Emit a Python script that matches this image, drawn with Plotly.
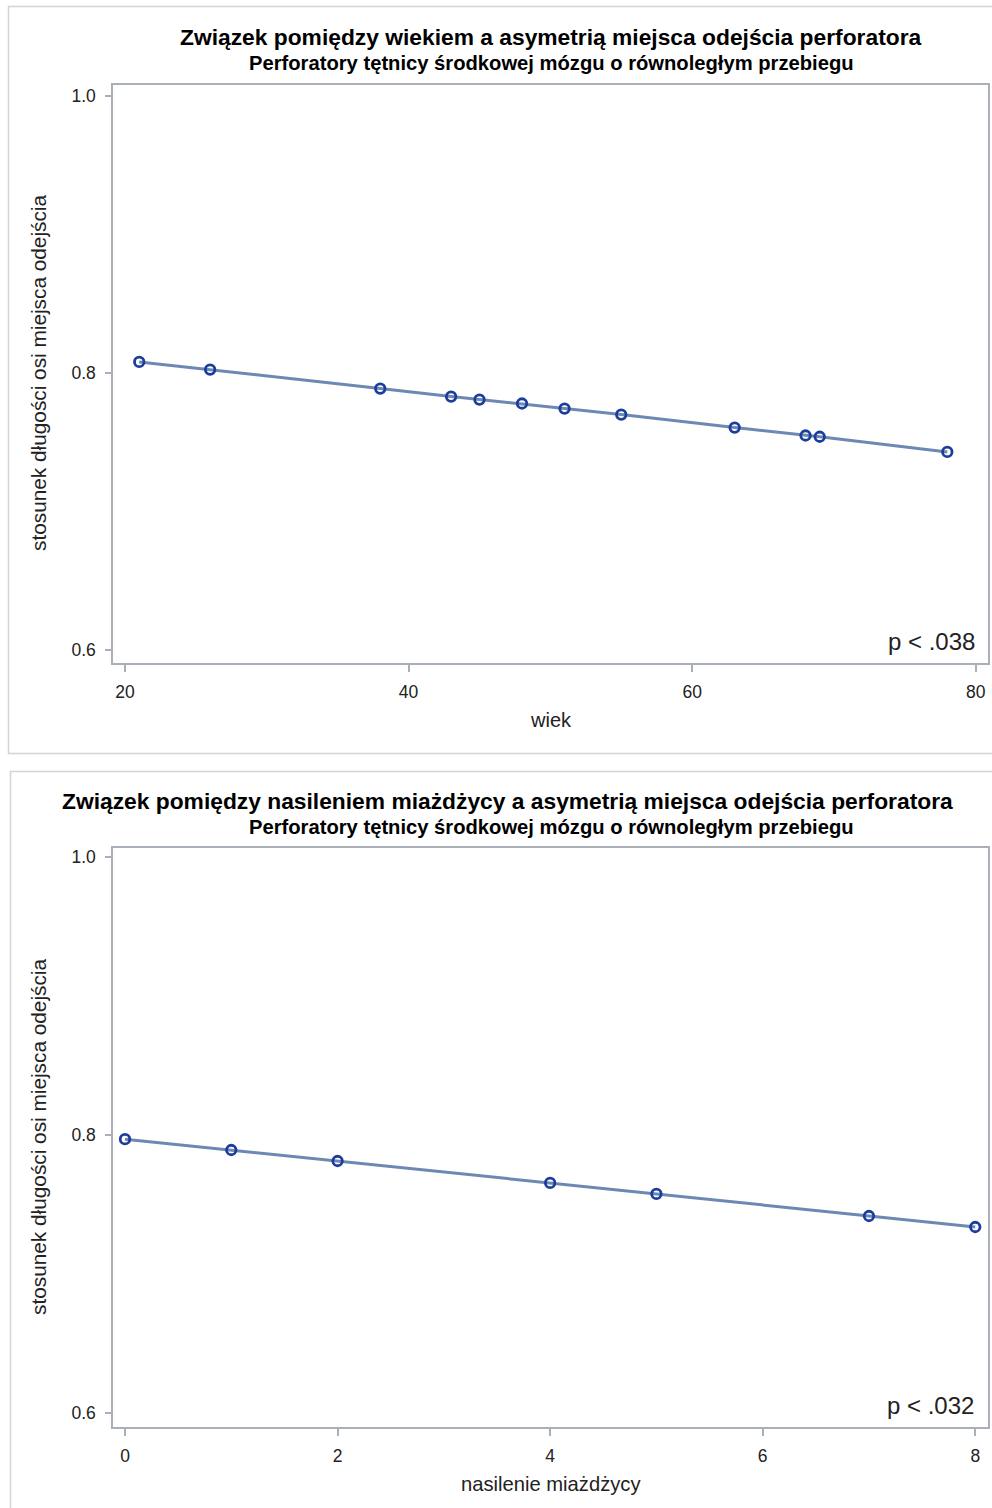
import plotly.graph_objects as go

# ---- data ----
age = [21, 26, 38, 43, 45, 48, 51, 55, 63, 68, 69, 78]
ratio_age = [0.808, 0.8025, 0.7888, 0.783, 0.7808, 0.778, 0.7743, 0.770, 0.7606, 0.7549, 0.7540, 0.743]

athero = [0, 1, 2, 4, 5, 7, 8]
ratio_athero = [0.797, 0.7892, 0.7813, 0.7655, 0.7576, 0.7417, 0.7338]

age_ticks = [20, 40, 60, 80]
athero_ticks = [0, 2, 4, 6, 8]
y_ticks = [0.6, 0.8, 1.0]
y_tick_labels = ["0.6", "0.8", "1.0"]

title1 = "Związek pomiędzy wiekiem a asymetrią miejsca odejścia perforatora"
title2 = "Związek pomiędzy nasileniem miażdżycy a asymetrią miejsca odejścia perforatora"
subtitle = "Perforatory tętnicy środkowej mózgu o równoległym przebiegu"
ytitle = "stosunek długości osi miejsca odejścia"
xtitle1 = "wiek"
xtitle2 = "nasilenie miażdżycy"
p1 = "p < .038"
p2 = "p < .032"

W, H = 992, 1508
FONT = "Liberation Sans, Arial, sans-serif"
LINE_C = "#6c88b3"
MARK_C = "#1c3d9b"
AX_C = "#a9b0b7"
TXT_C = "#222222"


def px(x):
    return x / W


def py(y):
    return 1 - y / H


fig = go.Figure()

for (xs, ys, xa, ya) in [(age, ratio_age, "x", "y"), (athero, ratio_athero, "x2", "y2")]:
    fig.add_trace(go.Scatter(
        x=xs, y=ys, xaxis=xa, yaxis=ya, mode="lines+markers",
        line=dict(color=LINE_C, width=3),
        marker=dict(symbol="circle-open", size=9.5, color=MARK_C, line=dict(width=2.8, color=MARK_C)),
        showlegend=False, hoverinfo="x+y",
    ))

axis_common = dict(
    showgrid=False, zeroline=False, showline=True, mirror=True,
    linecolor=AX_C, linewidth=1.5, ticks="outside", tickcolor=AX_C,
    tickwidth=1.5, tickfont=dict(family=FONT, size=17.5, color=TXT_C),
)

fig.update_layout(
    width=W, height=H,
    margin=dict(l=0, r=0, t=0, b=0),
    paper_bgcolor="white", plot_bgcolor="white",
    xaxis=dict(domain=[px(113), px(988)], range=[19.15, 80.87], anchor="y",
               tickvals=age_ticks, ticklen=7, ticklabelstandoff=5, **axis_common),
    yaxis=dict(domain=[py(663), py(85)], range=[0.5906, 1.008], anchor="x",
               tickvals=y_ticks, ticktext=y_tick_labels, ticklen=6, ticklabelstandoff=6, **axis_common),
    xaxis2=dict(domain=[px(113), px(988)], range=[-0.113, 8.12], anchor="y2",
                tickvals=athero_ticks, ticklen=7, ticklabelstandoff=5, **axis_common),
    yaxis2=dict(domain=[py(1427), py(848)], range=[0.5899, 1.0065], anchor="x2",
                tickvals=y_ticks, ticktext=y_tick_labels, ticklen=6, ticklabelstandoff=6, **axis_common),
)

ann = []


def text(t, x, y, size, bold=False, angle=0, xanchor="center", color=TXT_C):
    ann.append(dict(
        text=f"<b>{t}</b>" if bold else t, x=px(x), y=py(y), xref="paper", yref="paper",
        xanchor=xanchor, yanchor="middle", showarrow=False, textangle=angle,
        font=dict(family=FONT, size=size, color=color),
    ))


# top panel
text(title1, 551, 37, 22.8, bold=True, color="#000000")
text(subtitle, 551, 63, 20.2, bold=True, color="#000000")
text(xtitle1, 551, 720, 20)
text(ytitle, 38, 373, 20.8, angle=-90)
text(p1, 977, 641, 24, xanchor="right")

# bottom panel
text(title2, 507, 801, 22.8, bold=True, color="#000000")
text(subtitle, 551, 827, 20.2, bold=True, color="#000000")
text(xtitle2, 551, 1484, 20.2)
text(ytitle, 38, 1137, 20.8, angle=-90)
text(p2, 976, 1405, 24, xanchor="right")

fig.update_layout(annotations=ann)

# panel frames
fig.add_shape(type="rect", xref="paper", yref="paper", x0=px(8.5), x1=px(1005), y0=py(753.5), y1=py(6.5),
              line=dict(color="#d3d3d3", width=1.5), layer="below")
fig.add_shape(type="rect", xref="paper", yref="paper", x0=px(10.5), x1=px(1005), y0=py(1530), y1=py(771.5),
              line=dict(color="#d3d3d3", width=1.5), layer="below")

fig.write_html("out.html")
